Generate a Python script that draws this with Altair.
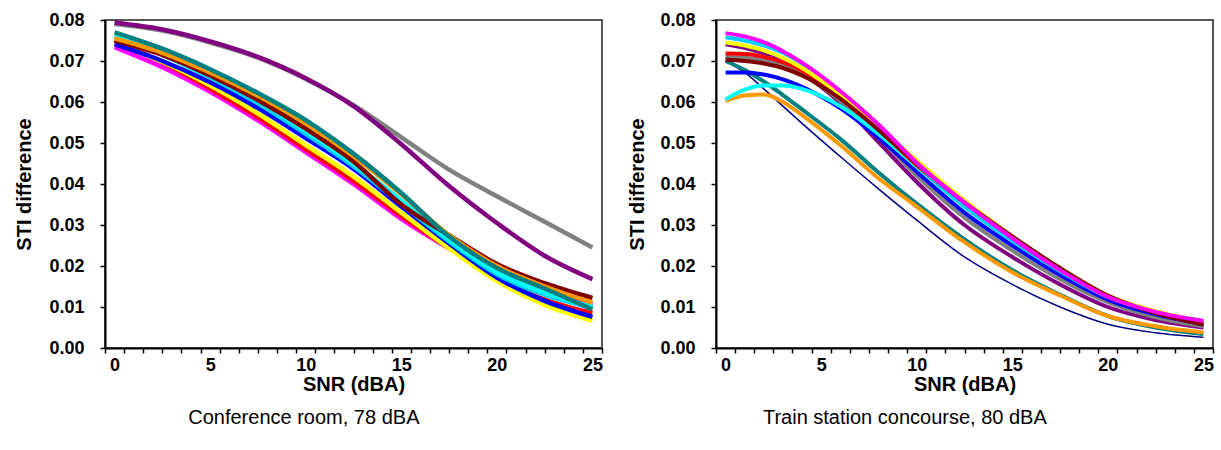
import altair as alt
import pandas as pd

# ---- Conference room, 78 dBA -------------------------------------------------
snr_left = [0, 2.5, 5, 7.5, 10, 12.5, 15, 17.5, 20, 22.5, 25]

left_series = [
    # (name, colour, width, values)
    ("gray",    "#808080", 4.5, [0.0790, 0.0774, 0.0745, 0.0708, 0.0656, 0.0592, 0.0514, 0.0435, 0.0370, 0.0308, 0.0245]),
    ("purple",  "#800080", 4.5, [0.0794, 0.0777, 0.0748, 0.0710, 0.0658, 0.0590, 0.0497, 0.0395, 0.0305, 0.0225, 0.0168]),
    ("magenta", "#FF00FF", 4.5, [0.0734, 0.0685, 0.0625, 0.0555, 0.0478, 0.0400, 0.0315, 0.0243, 0.0180, 0.0135, 0.0105]),
    ("red",     "#FF0000", 4.5, [0.0752, 0.0697, 0.0633, 0.0563, 0.0485, 0.0408, 0.0322, 0.0243, 0.0170, 0.0118, 0.0085]),
    ("yellow",  "#FFFF00", 4.5, [0.0745, 0.0698, 0.0640, 0.0572, 0.0495, 0.0418, 0.0330, 0.0243, 0.0163, 0.0105, 0.0066]),
    ("blue",    "#0000FF", 4.5, [0.0741, 0.0700, 0.0648, 0.0585, 0.0512, 0.0437, 0.0345, 0.0255, 0.0172, 0.0115, 0.0076]),
    ("sky",     "#00CCFF", 4.5, [0.0758, 0.0715, 0.0660, 0.0597, 0.0522, 0.0443, 0.0352, 0.0260, 0.0180, 0.0130, 0.0098]),
    ("cyan",    "#00FFFF", 4.5, [0.0762, 0.0722, 0.0668, 0.0605, 0.0530, 0.0450, 0.0360, 0.0265, 0.0185, 0.0135, 0.0100]),
    ("darkred", "#800000", 4.5, [0.0750, 0.0715, 0.0665, 0.0605, 0.0535, 0.0455, 0.0350, 0.0275, 0.0205, 0.0158, 0.0122]),
    ("orange",  "#FF9900", 4.5, [0.0755, 0.0720, 0.0672, 0.0615, 0.0548, 0.0468, 0.0375, 0.0275, 0.0200, 0.0150, 0.0111]),
    ("teal",    "#008080", 4.5, [0.0770, 0.0730, 0.0680, 0.0622, 0.0556, 0.0474, 0.0378, 0.0272, 0.0195, 0.0145, 0.0094]),
]

# ---- Train station concourse, 80 dBA ----------------------------------------
snr_right = [0, 1, 2, 3, 4, 6, 8, 10, 12.5, 15, 17.5, 20, 22.5, 25]

right_series = [
    ("navy",    "#000080", 1.5, [0.0700, 0.0672, 0.0632, 0.0590, 0.0548, 0.0467, 0.0388, 0.0312, 0.0222, 0.0155, 0.0100, 0.0058, 0.0037, 0.0026]),
    ("teal",    "#008080", 4, [0.0700, 0.0678, 0.0650, 0.0617, 0.0582, 0.0510, 0.0428, 0.0352, 0.0265, 0.0190, 0.0130, 0.0078, 0.0050, 0.0034]),
    ("orange",  "#FF9900", 4, [0.0602, 0.0616, 0.0618, 0.0600, 0.0568, 0.0495, 0.0414, 0.0345, 0.0258, 0.0185, 0.0128, 0.0078, 0.0053, 0.0038]),
    ("purple",  "#800080", 4, [0.0741, 0.0732, 0.0718, 0.0697, 0.0670, 0.0598, 0.0502, 0.0405, 0.0300, 0.0222, 0.0155, 0.0100, 0.0068, 0.0050]),
    ("gray",    "#808080", 4, [0.0710, 0.0708, 0.0702, 0.0690, 0.0668, 0.0603, 0.0515, 0.0420, 0.0318, 0.0238, 0.0168, 0.0112, 0.0075, 0.0053]),
    ("blue",    "#0000FF", 4, [0.0672, 0.0672, 0.0667, 0.0655, 0.0637, 0.0585, 0.0513, 0.0430, 0.0330, 0.0250, 0.0178, 0.0118, 0.0082, 0.0058]),
    ("cyan",    "#00FFFF", 4, [0.0606, 0.0630, 0.0640, 0.0640, 0.0632, 0.0590, 0.0522, 0.0442, 0.0345, 0.0262, 0.0188, 0.0125, 0.0088, 0.0065]),
    ("red",     "#FF0000", 4, [0.0718, 0.0717, 0.0710, 0.0697, 0.0677, 0.0615, 0.0533, 0.0446, 0.0350, 0.0268, 0.0190, 0.0125, 0.0088, 0.0062]),
    ("sky",     "#00CCFF", 4, [0.0758, 0.0750, 0.0738, 0.0720, 0.0694, 0.0625, 0.0540, 0.0450, 0.0345, 0.0262, 0.0188, 0.0125, 0.0088, 0.0066]),
    ("yellow",  "#FFFF00", 4, [0.0745, 0.0738, 0.0726, 0.0708, 0.0683, 0.0618, 0.0538, 0.0458, 0.0360, 0.0272, 0.0195, 0.0128, 0.0090, 0.0064]),
    ("darkred", "#800000", 4, [0.0703, 0.0700, 0.0694, 0.0683, 0.0665, 0.0608, 0.0532, 0.0450, 0.0355, 0.0272, 0.0195, 0.0128, 0.0085, 0.0057]),
    ("magenta", "#FF00FF", 4, [0.0768, 0.0760, 0.0746, 0.0724, 0.0696, 0.0627, 0.0545, 0.0452, 0.0355, 0.0268, 0.0190, 0.0125, 0.0088, 0.0066]),
]

# Axis ticks sit between categories (half steps), labels every 5 dB
x_tick_values = [i - 0.5 for i in range(27)] + [0, 5, 10, 15, 20, 25]
y_tick_values = [0.0, 0.01, 0.02, 0.03, 0.04, 0.05, 0.06, 0.07, 0.08]

FONT = "Liberation Sans"
PLOT_W, PLOT_H = 497, 328


def long_table(snr, series):
    rows = []
    for order, (name, colour, width, values) in enumerate(series):
        for x, v in zip(snr, values):
            rows.append({"series": name, "order": order, "colour": colour,
                         "width": width, "snr": x, "sti": v})
    return pd.DataFrame(rows)


def panel(snr, series, caption, y_title_pad, caption_dx):
    df = long_table(snr, series)
    x = alt.X(
        "snr:Q",
        scale=alt.Scale(domain=[-0.5, 25.5], nice=False, zero=False),
        axis=alt.Axis(
            values=x_tick_values,
            labelExpr="datum.value % 5 === 0 ? format(datum.value, 'd') : ''",
            tickOpacity={"condition": {"test": "datum.value % 5 === 0", "value": 0}, "value": 1},
            labelOverlap=False,
            labelFlush=False,
            title="SNR (dBA)",
            titlePadding=0,
            labelPadding=3,
            tickSize=5,
        ),
    )
    y = alt.Y(
        "sti:Q",
        scale=alt.Scale(domain=[0, 0.08], nice=False, zero=True),
        axis=alt.Axis(
            values=y_tick_values,
            format=".2f",
            title="STI difference",
            titlePadding=y_title_pad,
            labelPadding=16,
            tickSize=5,
        ),
    )
    return (
        alt.Chart(df)
        .mark_line(interpolate="monotone")
        .encode(
            x=x,
            y=y,
            detail="series:N",
            order="snr:Q",
            color=alt.Color("colour:N", scale=None),
            strokeWidth=alt.StrokeWidth("width:Q", scale=None),
        )
        .properties(
            width=PLOT_W,
            height=PLOT_H,
            title=alt.TitleParams(
                caption, orient="bottom", anchor="middle", frame="bounds",
                fontSize=20, fontWeight="normal", dx=caption_dx,
                font=FONT, color="#000", offset=14,
            ),
        )
    )


left = panel(snr_left, left_series, "Conference room, 78 dBA", 14, -5)
right = panel(snr_right, right_series, "Train station concourse, 80 dBA", 12, -16)

chart = (
    alt.hconcat(left, right, spacing=23)
    .properties(padding={"left": 14, "top": 10, "right": 0, "bottom": 0},
                background="white")
    .configure_view(stroke="#222", strokeWidth=1.5)
    .configure_axis(
        grid=False,
        domainColor="#000",
        domainWidth=2,
        tickColor="#000",
        tickWidth=1.5,
        labelFont=FONT,
        labelFontSize=18,
        labelFontWeight="bold",
        labelColor="#000",
        titleFont=FONT,
        titleFontSize=20,
        titleFontWeight="bold",
        titleColor="#000",
    )
)

chart.save("out.html", embed_options={"renderer": "svg", "actions": False})
